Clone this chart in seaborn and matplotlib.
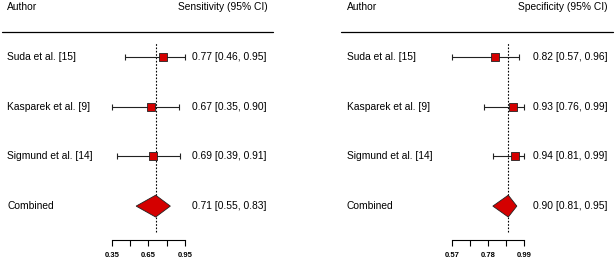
import pandas as pd
import seaborn as sns
import matplotlib.pyplot as plt
from matplotlib.lines import Line2D
from matplotlib.transforms import blended_transform_factory


authors = ["Suda et al. [15]", "Kasparek et al. [9]", "Sigmund et al. [14]"]

sens_est = [0.77, 0.67, 0.69]
sens_lo = [0.46, 0.35, 0.39]
sens_hi = [0.95, 0.90, 0.91]
sens_comb = [0.71, 0.55, 0.83]
sens_ticks = [0.35, 0.50, 0.65, 0.80, 0.95]
sens_labels = ["0.35", "", "0.65", "", "0.95"]

spec_est = [0.82, 0.93, 0.94]
spec_lo = [0.57, 0.76, 0.81]
spec_hi = [0.96, 0.99, 0.99]
spec_comb = [0.90, 0.81, 0.95]
spec_ticks = [0.57, 0.675, 0.78, 0.885, 0.99]
spec_labels = ["0.57", "", "0.78", "", "0.99"]

RED = "#d40000"
W, H = 615, 259

sns.set_style("white")
plt.rcParams['font.family'] = ['Liberation Sans', 'DejaVu Sans']
plt.rcParams['text.color'] = 'black'
plt.rcParams['xtick.color'] = 'black'

fig = plt.figure(figsize=(W / 100, H / 100), dpi=100)


def panel(x0, x1, est, lo, hi, comb, ticks, labels, title, px_author, px_num, line_px):
    ax = fig.add_axes([x0 / W, 1 - 240 / H, (x1 - x0) / W, 197 / H])
    ax.set_xlim(ticks[0], ticks[-1])
    ax.set_ylim(3.682, -0.282)

    df = pd.DataFrame({"author": authors, "est": est, "lo": lo, "hi": hi,
                       "row": range(len(authors))})
    ax.errorbar(df["est"], df["row"],
                xerr=[df["est"] - df["lo"], df["hi"] - df["est"]],
                fmt="none", ecolor="#222222", elinewidth=0.8, capsize=2.5,
                capthick=0.8, clip_on=False, zorder=2)
    sns.scatterplot(data=df, x="est", y="row", marker="s", s=30, color=RED,
                    edgecolor="#222222", linewidth=0.6, ax=ax, zorder=3,
                    clip_on=False, legend=False)

    # summary diamond
    c_est, c_lo, c_hi = comb
    crow = len(authors)
    ax.fill([c_lo, c_est, c_hi, c_est], [crow, crow - 0.22, crow, crow + 0.22],
            color=RED, edgecolor="#222222", linewidth=0.6, zorder=3, clip_on=False)
    ax.axvline(c_est, ymin=0.04, ymax=1, color="black", ls=(0, (1.5, 1.5)), lw=0.8,
               zorder=1)

    # bottom axis
    for s in ["top", "right", "left"]:
        ax.spines[s].set_visible(False)
    ax.spines["bottom"].set_color("black")
    ax.spines["bottom"].set_linewidth(0.8)
    ax.set_xticks(ticks)
    ax.set_xticklabels(labels, fontsize=5.5, fontweight="bold")
    ax.tick_params(axis="x", direction="out", length=4, width=0.8, color="black",
                   pad=4.5, bottom=True)
    ax.set_yticks([])
    ax.set_xlabel("")
    ax.set_ylabel("")

    tr = blended_transform_factory(fig.transFigure, ax.transData)
    names = authors + ["Combined"]
    vals = [(e, l, h) for e, l, h in zip(est, lo, hi)] + [tuple(comb)]
    for i, (name, (e, l, h)) in enumerate(zip(names, vals)):
        ax.text(px_author / W, i, name, transform=tr, ha="left", va="center",
                fontsize=7.4, clip_on=False)
        ax.text(px_num / W, i, f"{e:.2f} [{l:.2f}, {h:.2f}]", transform=tr,
                ha="left", va="center", fontsize=7.4, clip_on=False)

    fig.text(px_author / W, 1 - 7 / H, "Author", ha="left", va="center", fontsize=7.4)
    fig.text(line_px[1] / W - 5 / W, 1 - 7 / H, title, ha="right", va="center",
             fontsize=7.4)
    fig.add_artist(Line2D([line_px[0] / W, line_px[1] / W], [1 - 32 / H] * 2,
                          transform=fig.transFigure, color="black", lw=0.9))
    return ax


panel(111.7, 185.0, sens_est, sens_lo, sens_hi, sens_comb, sens_ticks, sens_labels,
      "Sensitivity (95% CI)", 7, 192, (2, 273))
panel(451.7, 523.7, spec_est, spec_lo, spec_hi, spec_comb, spec_ticks, spec_labels,
      "Specificity (95% CI)", 346.7, 532.7, (341, 613))

fig.savefig("out.png", dpi=100)
